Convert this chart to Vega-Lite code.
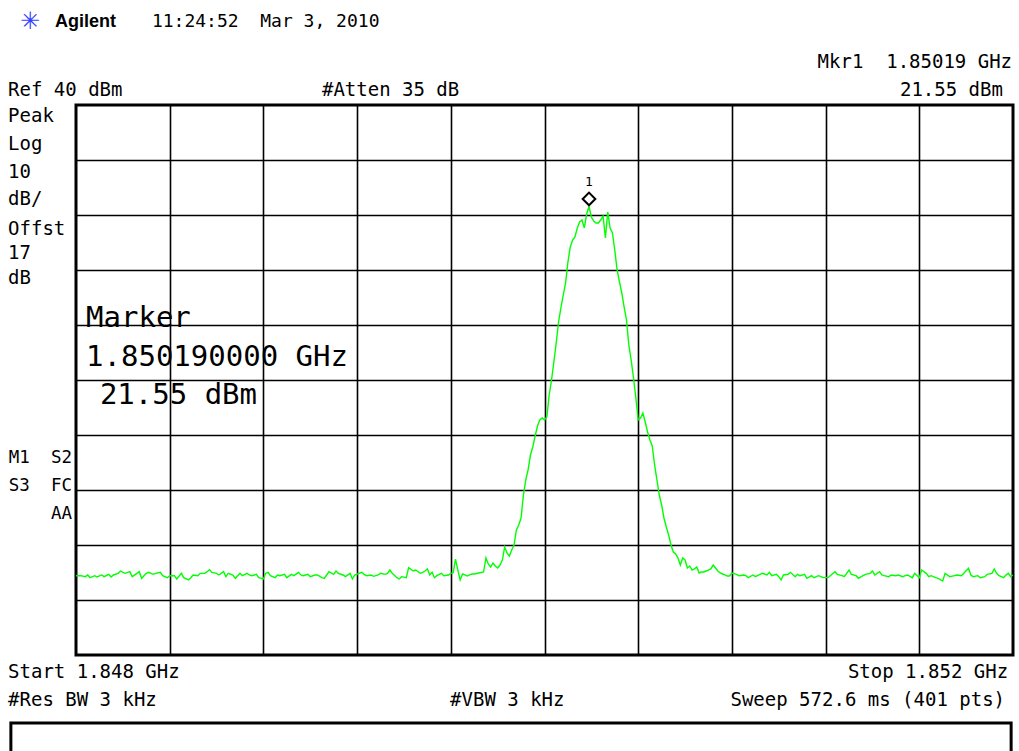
{
  "$schema": "https://vega.github.io/schema/vega-lite/v6.json",
  "width": 937,
  "height": 550,
  "autosize": {"type": "none"},
  "padding": {"left": 76, "top": 105, "right": 6, "bottom": 96},
  "background": "white",
  "config": {
    "view": {"stroke": "black", "strokeWidth": 3},
    "axis": {"labels": false, "ticks": false, "domain": false, "title": null, "grid": true, "gridColor": "#000", "gridWidth": 1.6, "gridOpacity": 1}
  },
  "datasets": {
    "trace": [
      {"f":1848.00,"dBm":-45.58},{"f":1848.02,"dBm":-45.58},{"f":1848.04,"dBm":-45.76},{"f":1848.05,"dBm":-45.45},{"f":1848.06,"dBm":-45.94},{"f":1848.08,"dBm":-45.58},{"f":1848.09,"dBm":-45.82},{"f":1848.11,"dBm":-45.45},{"f":1848.12,"dBm":-45.76},{"f":1848.14,"dBm":-45.33},{"f":1848.15,"dBm":-45.82},{"f":1848.16,"dBm":-45.45},{"f":1848.18,"dBm":-45.15},{"f":1848.19,"dBm":-44.73},{"f":1848.20,"dBm":-44.97},{"f":1848.21,"dBm":-45.15},{"f":1848.23,"dBm":-44.85},{"f":1848.24,"dBm":-45.76},{"f":1848.26,"dBm":-45.15},{"f":1848.27,"dBm":-44.85},{"f":1848.28,"dBm":-46.06},{"f":1848.30,"dBm":-45.15},{"f":1848.31,"dBm":-44.97},{"f":1848.33,"dBm":-45.33},{"f":1848.34,"dBm":-45.15},{"f":1848.36,"dBm":-44.97},{"f":1848.37,"dBm":-45.58},{"f":1848.39,"dBm":-45.94},{"f":1848.40,"dBm":-45.58},{"f":1848.42,"dBm":-45.58},{"f":1848.43,"dBm":-46.18},{"f":1848.45,"dBm":-45.15},{"f":1848.46,"dBm":-45.94},{"f":1848.48,"dBm":-46.36},{"f":1848.49,"dBm":-45.94},{"f":1848.50,"dBm":-45.45},{"f":1848.52,"dBm":-45.58},{"f":1848.53,"dBm":-45.15},{"f":1848.55,"dBm":-45.15},{"f":1848.56,"dBm":-44.85},{"f":1848.57,"dBm":-44.48},{"f":1848.58,"dBm":-44.97},{"f":1848.60,"dBm":-45.15},{"f":1848.61,"dBm":-45.45},{"f":1848.63,"dBm":-44.85},{"f":1848.64,"dBm":-45.76},{"f":1848.65,"dBm":-45.15},{"f":1848.67,"dBm":-45.45},{"f":1848.68,"dBm":-46.06},{"f":1848.70,"dBm":-45.15},{"f":1848.71,"dBm":-45.58},{"f":1848.73,"dBm":-45.15},{"f":1848.74,"dBm":-45.45},{"f":1848.75,"dBm":-45.58},{"f":1848.77,"dBm":-45.33},{"f":1848.78,"dBm":-45.94},{"f":1848.80,"dBm":-46.18},{"f":1848.81,"dBm":-45.15},{"f":1848.82,"dBm":-44.97},{"f":1848.83,"dBm":-45.58},{"f":1848.85,"dBm":-45.94},{"f":1848.86,"dBm":-45.45},{"f":1848.87,"dBm":-45.58},{"f":1848.89,"dBm":-45.33},{"f":1848.90,"dBm":-45.94},{"f":1848.92,"dBm":-45.33},{"f":1848.93,"dBm":-45.58},{"f":1848.95,"dBm":-44.97},{"f":1848.96,"dBm":-45.45},{"f":1848.97,"dBm":-45.58},{"f":1848.99,"dBm":-45.33},
      {"f":1849.00,"dBm":-45.76},{"f":1849.02,"dBm":-45.45},{"f":1849.03,"dBm":-45.45},{"f":1849.05,"dBm":-45.94},{"f":1849.06,"dBm":-46.06},{"f":1849.07,"dBm":-45.45},{"f":1849.08,"dBm":-44.85},{"f":1849.10,"dBm":-45.33},{"f":1849.11,"dBm":-44.73},{"f":1849.12,"dBm":-45.15},{"f":1849.14,"dBm":-45.45},{"f":1849.15,"dBm":-45.76},{"f":1849.17,"dBm":-45.15},{"f":1849.18,"dBm":-46.18},{"f":1849.19,"dBm":-45.45},{"f":1849.22,"dBm":-44.97},{"f":1849.23,"dBm":-45.33},{"f":1849.24,"dBm":-45.58},{"f":1849.26,"dBm":-45.45},{"f":1849.27,"dBm":-45.70},{"f":1849.29,"dBm":-45.45},{"f":1849.30,"dBm":-45.15},{"f":1849.32,"dBm":-45.33},{"f":1849.33,"dBm":-45.15},{"f":1849.34,"dBm":-44.55},{"f":1849.35,"dBm":-45.15},{"f":1849.37,"dBm":-45.94},{"f":1849.38,"dBm":-46.18},{"f":1849.39,"dBm":-45.76},{"f":1849.41,"dBm":-45.94},{"f":1849.42,"dBm":-44.12},{"f":1849.44,"dBm":-44.73},{"f":1849.45,"dBm":-44.55},{"f":1849.47,"dBm":-45.15},{"f":1849.48,"dBm":-44.97},{"f":1849.49,"dBm":-44.73},{"f":1849.50,"dBm":-44.36},{"f":1849.51,"dBm":-45.45},{"f":1849.52,"dBm":-44.97},{"f":1849.53,"dBm":-45.94},{"f":1849.54,"dBm":-45.58},{"f":1849.56,"dBm":-45.15},{"f":1849.57,"dBm":-45.58},{"f":1849.59,"dBm":-45.45},{"f":1849.60,"dBm":-45.15},{"f":1849.61,"dBm":-45.09},{"f":1849.62,"dBm":-42.55},{"f":1849.63,"dBm":-44.55},{"f":1849.64,"dBm":-46.36},{"f":1849.65,"dBm":-45.27},{"f":1849.66,"dBm":-45.45},{"f":1849.67,"dBm":-45.64},{"f":1849.68,"dBm":-45.45},{"f":1849.69,"dBm":-45.27},{"f":1849.70,"dBm":-45.27},{"f":1849.72,"dBm":-45.09},{"f":1849.74,"dBm":-44.91},{"f":1849.75,"dBm":-42.36},{"f":1849.76,"dBm":-43.45},{"f":1849.77,"dBm":-44.00},{"f":1849.78,"dBm":-43.27},{"f":1849.79,"dBm":-43.82},{"f":1849.80,"dBm":-44.18},{"f":1849.81,"dBm":-43.64},{"f":1849.82,"dBm":-42.73},{"f":1849.83,"dBm":-40.36},{"f":1849.84,"dBm":-41.45},{"f":1849.85,"dBm":-42.00},{"f":1849.86,"dBm":-40.91},{"f":1849.87,"dBm":-40.00},{"f":1849.88,"dBm":-37.27},{"f":1849.89,"dBm":-36.36},{"f":1849.90,"dBm":-35.09},{"f":1849.91,"dBm":-30.91},{"f":1849.92,"dBm":-28.18},{"f":1849.93,"dBm":-26.36},{"f":1849.94,"dBm":-23.64},{"f":1849.95,"dBm":-22.18},{"f":1849.96,"dBm":-20.18},{"f":1849.97,"dBm":-18.36},{"f":1849.98,"dBm":-17.27},{"f":1849.99,"dBm":-16.91},
      {"f":1850.00,"dBm":-17.27},{"f":1850.01,"dBm":-16.73},{"f":1850.02,"dBm":-12.73},{"f":1850.03,"dBm":-10.00},{"f":1850.04,"dBm":-6.73},{"f":1850.05,"dBm":-3.27},{"f":1850.06,"dBm":0.55},{"f":1850.07,"dBm":3.09},{"f":1850.08,"dBm":5.45},{"f":1850.09,"dBm":7.64},{"f":1850.10,"dBm":11.45},{"f":1850.11,"dBm":14.18},{"f":1850.12,"dBm":15.45},{"f":1850.13,"dBm":16.00},{"f":1850.14,"dBm":17.64},{"f":1850.15,"dBm":18.73},{"f":1850.16,"dBm":19.09},{"f":1850.17,"dBm":17.64},{"f":1850.18,"dBm":20.18},{"f":1850.19,"dBm":21.55},{"f":1850.20,"dBm":19.64},{"f":1850.21,"dBm":18.91},{"f":1850.22,"dBm":18.55},{"f":1850.23,"dBm":18.55},{"f":1850.24,"dBm":19.09},{"f":1850.25,"dBm":19.82},{"f":1850.26,"dBm":15.82},{"f":1850.27,"dBm":20.55},{"f":1850.28,"dBm":17.64},{"f":1850.29,"dBm":16.73},{"f":1850.30,"dBm":13.64},{"f":1850.31,"dBm":10.00},{"f":1850.32,"dBm":7.82},{"f":1850.33,"dBm":5.82},{"f":1850.34,"dBm":3.27},{"f":1850.35,"dBm":0.91},{"f":1850.36,"dBm":-3.64},{"f":1850.37,"dBm":-6.36},{"f":1850.38,"dBm":-9.64},{"f":1850.39,"dBm":-13.27},{"f":1850.40,"dBm":-17.27},{"f":1850.41,"dBm":-16.91},{"f":1850.42,"dBm":-16.00},{"f":1850.43,"dBm":-17.64},{"f":1850.44,"dBm":-19.45},{"f":1850.45,"dBm":-20.91},{"f":1850.46,"dBm":-22.00},{"f":1850.47,"dBm":-25.45},{"f":1850.48,"dBm":-28.18},{"f":1850.49,"dBm":-30.91},{"f":1850.50,"dBm":-32.73},{"f":1850.51,"dBm":-35.09},{"f":1850.52,"dBm":-36.73},{"f":1850.53,"dBm":-38.18},{"f":1850.54,"dBm":-40.00},{"f":1850.55,"dBm":-41.27},{"f":1850.56,"dBm":-41.64},{"f":1850.57,"dBm":-42.36},{"f":1850.58,"dBm":-43.64},{"f":1850.59,"dBm":-42.36},{"f":1850.60,"dBm":-42.73},{"f":1850.61,"dBm":-44.18},{"f":1850.62,"dBm":-43.82},{"f":1850.63,"dBm":-44.55},{"f":1850.64,"dBm":-44.36},{"f":1850.65,"dBm":-44.00},{"f":1850.66,"dBm":-45.09},{"f":1850.67,"dBm":-44.91},{"f":1850.68,"dBm":-44.91},{"f":1850.69,"dBm":-44.73},{"f":1850.70,"dBm":-44.55},{"f":1850.71,"dBm":-44.36},{"f":1850.72,"dBm":-43.64},{"f":1850.73,"dBm":-44.18},{"f":1850.74,"dBm":-44.73},{"f":1850.75,"dBm":-45.09},{"f":1850.76,"dBm":-45.27},{"f":1850.77,"dBm":-45.45},{"f":1850.78,"dBm":-45.64},{"f":1850.79,"dBm":-45.64},{"f":1850.80,"dBm":-45.09},{"f":1850.82,"dBm":-45.33},{"f":1850.83,"dBm":-45.58},{"f":1850.85,"dBm":-45.45},{"f":1850.86,"dBm":-45.58},{"f":1850.87,"dBm":-45.94},{"f":1850.89,"dBm":-45.45},{"f":1850.90,"dBm":-45.76},{"f":1850.92,"dBm":-45.33},{"f":1850.93,"dBm":-45.15},{"f":1850.95,"dBm":-45.45},{"f":1850.96,"dBm":-44.97},{"f":1850.97,"dBm":-45.58},{"f":1850.99,"dBm":-45.33},
      {"f":1851.00,"dBm":-45.76},{"f":1851.01,"dBm":-46.36},{"f":1851.02,"dBm":-45.45},{"f":1851.04,"dBm":-45.33},{"f":1851.05,"dBm":-44.97},{"f":1851.07,"dBm":-45.76},{"f":1851.08,"dBm":-45.33},{"f":1851.09,"dBm":-45.58},{"f":1851.11,"dBm":-45.33},{"f":1851.12,"dBm":-46.06},{"f":1851.14,"dBm":-45.58},{"f":1851.15,"dBm":-45.94},{"f":1851.17,"dBm":-45.58},{"f":1851.18,"dBm":-45.76},{"f":1851.19,"dBm":-45.94},{"f":1851.21,"dBm":-45.94},{"f":1851.22,"dBm":-45.58},{"f":1851.24,"dBm":-44.85},{"f":1851.25,"dBm":-45.33},{"f":1851.27,"dBm":-45.58},{"f":1851.28,"dBm":-45.76},{"f":1851.30,"dBm":-44.55},{"f":1851.31,"dBm":-45.33},{"f":1851.33,"dBm":-45.58},{"f":1851.34,"dBm":-46.06},{"f":1851.36,"dBm":-45.58},{"f":1851.37,"dBm":-45.33},{"f":1851.39,"dBm":-45.15},{"f":1851.40,"dBm":-44.73},{"f":1851.41,"dBm":-45.45},{"f":1851.43,"dBm":-44.85},{"f":1851.44,"dBm":-45.45},{"f":1851.45,"dBm":-45.58},{"f":1851.47,"dBm":-45.76},{"f":1851.48,"dBm":-45.45},{"f":1851.50,"dBm":-45.58},{"f":1851.51,"dBm":-45.45},{"f":1851.53,"dBm":-45.76},{"f":1851.54,"dBm":-45.58},{"f":1851.55,"dBm":-45.45},{"f":1851.57,"dBm":-45.94},{"f":1851.58,"dBm":-45.15},{"f":1851.60,"dBm":-45.94},{"f":1851.61,"dBm":-44.55},{"f":1851.63,"dBm":-45.15},{"f":1851.64,"dBm":-45.76},{"f":1851.65,"dBm":-45.58},{"f":1851.67,"dBm":-45.94},{"f":1851.68,"dBm":-46.06},{"f":1851.70,"dBm":-46.55},{"f":1851.71,"dBm":-45.15},{"f":1851.72,"dBm":-45.45},{"f":1851.73,"dBm":-45.76},{"f":1851.75,"dBm":-45.58},{"f":1851.76,"dBm":-45.45},{"f":1851.78,"dBm":-45.58},{"f":1851.79,"dBm":-45.15},{"f":1851.81,"dBm":-44.24},{"f":1851.82,"dBm":-45.45},{"f":1851.83,"dBm":-45.76},{"f":1851.85,"dBm":-45.58},{"f":1851.86,"dBm":-45.94},{"f":1851.88,"dBm":-45.76},{"f":1851.89,"dBm":-45.33},{"f":1851.91,"dBm":-45.15},{"f":1851.92,"dBm":-44.36},{"f":1851.93,"dBm":-45.15},{"f":1851.94,"dBm":-45.58},{"f":1851.96,"dBm":-45.94},{"f":1851.97,"dBm":-45.45},{"f":1851.98,"dBm":-45.15},{"f":1851.99,"dBm":-45.76},{"f":1852.00,"dBm":-45.45}
    ],
    "notes": [
      {"group":"left","text":"Ref 40 dBm","f":1847.710,"dBm":42.73},
      {"group":"left","text":"#Atten 35 dB","f":1849.050,"dBm":42.73},
      {"group":"left","text":"Peak","f":1847.710,"dBm":38.0},
      {"group":"left","text":"Log","f":1847.710,"dBm":32.91},
      {"group":"left","text":"10","f":1847.710,"dBm":27.82},
      {"group":"left","text":"dB/","f":1847.710,"dBm":22.91},
      {"group":"left","text":"Offst","f":1847.710,"dBm":17.45},
      {"group":"left","text":"17","f":1847.710,"dBm":13.09},
      {"group":"left","text":"dB","f":1847.710,"dBm":8.55},
      {"group":"left","text":"Start 1.848 GHz","f":1847.710,"dBm":-63.09},
      {"group":"left","text":"#Res BW 3 kHz","f":1847.710,"dBm":-68.18},
      {"group":"left","text":"#VBW 3 kHz","f":1849.597,"dBm":-68.18},
      {"group":"time","text":"11:24:52\u00a0 Mar 3, 2010","f":1848.324,"dBm":55.09},
      {"group":"right","text":"Mkr1\u00a0 1.85019 GHz","f":1851.996,"dBm":47.82},
      {"group":"right","text":"21.55 dBm","f":1851.957,"dBm":42.73},
      {"group":"status","text":"M1\u00a0 S2","f":1847.983,"dBm":-24.18},
      {"group":"status","text":"S3\u00a0 FC","f":1847.983,"dBm":-29.27},
      {"group":"status","text":"AA","f":1847.983,"dBm":-34.36},
      {"group":"right","text":"Stop 1.852 GHz","f":1851.979,"dBm":-63.09},
      {"group":"right","text":"Sweep 572.6 ms (401 pts)","f":1851.966,"dBm":-68.18},
      {"group":"big","text":"Marker","f":1848.043,"dBm":1.2},
      {"group":"big","text":"1.850190000 GHz","f":1848.043,"dBm":-5.82},
      {"group":"big","text":"21.55 dBm","f":1848.102,"dBm":-12.73},
      {"group":"brand","text":"Agilent","f":1847.910,"dBm":55.09},
      {"group":"logo","text":"✳","f":1847.804,"dBm":55.09}
    ],
    "marker": [{"f":1850.19,"dBm":21.55,"label":"1"}],
    "box": [{"f":1847.722,"f2":1851.992,"dBm":-72.36,"dBm2":-86.36}]
  },
  "encoding": {
    "x": {"field": "f", "type": "quantitative", "scale": {"domain": [1848, 1852], "nice": false, "zero": false}, "axis": {"values": [1848.4, 1848.8, 1849.2, 1849.6, 1850.0, 1850.4, 1850.8, 1851.2, 1851.6]}},
    "y": {"field": "dBm", "type": "quantitative", "scale": {"domain": [-60, 40], "nice": false, "zero": false}, "axis": {"values": [-50, -40, -30, -20, -10, 0, 10, 20, 30]}}
  },
  "layer": [
    {
      "data": {"name": "trace"},
      "mark": {"type": "line", "color": "#00ff00", "strokeWidth": 1.4, "clip": true}
    },
    {
      "data": {"name": "marker"},
      "mark": {"type": "point", "shape": "diamond", "size": 160, "filled": true, "fill": "white", "stroke": "black", "strokeWidth": 2, "opacity": 1, "yOffset": -7.5}
    },
    {
      "data": {"name": "marker"},
      "mark": {"type": "text", "font": "DejaVu Sans Mono", "fontSize": 13, "color": "black", "align": "center", "baseline": "middle", "dy": -24},
      "encoding": {"text": {"field": "label"}}
    },
    {
      "data": {"name": "box"},
      "mark": {"type": "rect", "fill": "white", "stroke": "black", "strokeWidth": 3, "clip": false},
      "encoding": {"x2": {"field": "f2"}, "y2": {"field": "dBm2"}}
    },
    {
      "data": {"name": "notes"},
      "transform": [{"filter": "datum.group === 'left'"}],
      "mark": {"type": "text", "font": "DejaVu Sans Mono", "fontSize": 19, "color": "black", "align": "left", "baseline": "middle"},
      "encoding": {"text": {"field": "text"}}
    },
    {
      "data": {"name": "notes"},
      "transform": [{"filter": "datum.group === 'time'"}],
      "mark": {"type": "text", "font": "DejaVu Sans Mono", "fontSize": 18, "color": "black", "align": "left", "baseline": "middle"},
      "encoding": {"text": {"field": "text"}}
    },
    {
      "data": {"name": "notes"},
      "transform": [{"filter": "datum.group === 'right'"}],
      "mark": {"type": "text", "font": "DejaVu Sans Mono", "fontSize": 19, "color": "black", "align": "right", "baseline": "middle"},
      "encoding": {"text": {"field": "text"}}
    },
    {
      "data": {"name": "notes"},
      "transform": [{"filter": "datum.group === 'status'"}],
      "mark": {"type": "text", "font": "DejaVu Sans Mono", "fontSize": 17.5, "color": "black", "align": "right", "baseline": "middle"},
      "encoding": {"text": {"field": "text"}}
    },
    {
      "data": {"name": "notes"},
      "transform": [{"filter": "datum.group === 'big'"}],
      "mark": {"type": "text", "font": "DejaVu Sans Mono", "fontSize": 29, "color": "black", "align": "left", "baseline": "middle"},
      "encoding": {"text": {"field": "text"}}
    },
    {
      "data": {"name": "notes"},
      "transform": [{"filter": "datum.group === 'brand'"}],
      "mark": {"type": "text", "font": "Liberation Sans", "fontWeight": "bold", "fontSize": 18, "color": "black", "align": "left", "baseline": "middle"},
      "encoding": {"text": {"field": "text"}}
    },
    {
      "data": {"name": "notes"},
      "transform": [{"filter": "datum.group === 'logo'"}],
      "mark": {"type": "text", "font": "DejaVu Sans", "fontSize": 24, "color": "#3344ff", "align": "center", "baseline": "middle"},
      "encoding": {"text": {"field": "text"}}
    }
  ]
}
